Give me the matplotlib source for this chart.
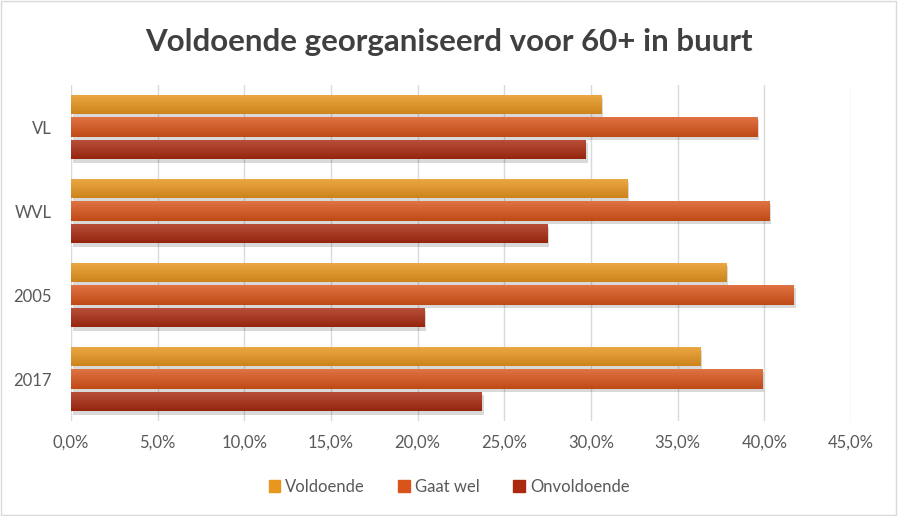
import numpy as np
import matplotlib.pyplot as plt
from matplotlib.colors import to_rgb
from matplotlib.patches import Rectangle

# data
categories = ['VL', 'WVL', '2005', '2017']
series = ['Voldoende', 'Gaat wel', 'Onvoldoende']
voldoende = [30.6, 32.1, 37.8, 36.3]
gaat_wel = [39.6, 40.3, 41.7, 39.9]
onvoldoende = [29.7, 27.5, 20.4, 23.7]
xticks = [0, 5, 10, 15, 20, 25, 30, 35, 40, 45]

colors = ['#E8961E', '#D9541A', '#AA2A10']
values = [voldoende, gaat_wel, onvoldoende]

plt.rcParams['font.family'] = ['Lato', 'DejaVu Sans']

fig = plt.figure(figsize=(8.98, 5.16), dpi=100)
ax = fig.add_axes([71 / 898, 1 - 421 / 516, 780 / 898, 336 / 516])

y = np.arange(len(categories))
offsets = [-0.268, 0.0, 0.268]
h = 0.235


def gradient_fill(ax, bar, color):
    # lighter top, darker bottom, like the office 3d-ish bars
    c = np.array(to_rgb(color))
    light = np.clip(c + (1 - c) * 0.18, 0, 1)
    dark = c * 0.88
    t = np.linspace(0, 1, 32)[:, None]
    grad = light * (1 - t) + dark * t
    img = grad[:, None, :]
    x0, y0 = bar.get_x(), bar.get_y()
    w, hh = bar.get_width(), bar.get_height()
    im = ax.imshow(img, extent=(x0, x0 + w, y0 + hh, y0), aspect='auto',
                   zorder=3, interpolation='bilinear')
    im.set_clip_path(bar)


for i, (name, vals) in enumerate(zip(series, values)):
    # shadow
    for yy, v in zip(y + offsets[i], vals):
        ax.add_patch(Rectangle((0.1, yy - h / 2 + 0.04), v, h,
                               color='#000000', alpha=0.15, lw=0, zorder=2))
    bars = ax.barh(y + offsets[i], vals, height=h, color=colors[i],
                   label=name, zorder=3)
    for b in bars:
        gradient_fill(ax, b, colors[i])

ax.set_xlim(0, 45)
ax.set_ylim(3.5, -0.5)
ax.set_yticks(y)
ax.set_yticklabels(categories)
ax.set_xticks(xticks)
ax.set_xticklabels([f'{t:.1f}%'.replace('.', ',') for t in xticks])
ax.tick_params(length=0, labelsize=12, colors='#595959', pad=10)
ax.tick_params(axis='y', pad=14)
ax.grid(axis='x', color='#D9D9D9', lw=1, zorder=0)
ax.set_axisbelow(True)
for s in ax.spines.values():
    s.set_visible(False)

fig.suptitle('Voldoende georganiseerd voor 60+ in buurt', y=0.945,
             fontsize=22.5, fontweight='bold', color='#404040')

handles = [Rectangle((0, 0), 1, 1, color=c) for c in colors]
fig.legend(handles, series, loc='center', bbox_to_anchor=(0.5, 1 - 487 / 516),
           ncol=3, frameon=False, fontsize=12, handlelength=0.7,
           handleheight=0.7, handletextpad=0.3, columnspacing=2.0,
           labelcolor='#595959')

fig.patches.append(Rectangle((0.001, 0.001), 0.997, 0.997, transform=fig.transFigure,
                             fill=False, edgecolor='#D9D9D9', lw=1))

fig.savefig('out.png', dpi=100)
